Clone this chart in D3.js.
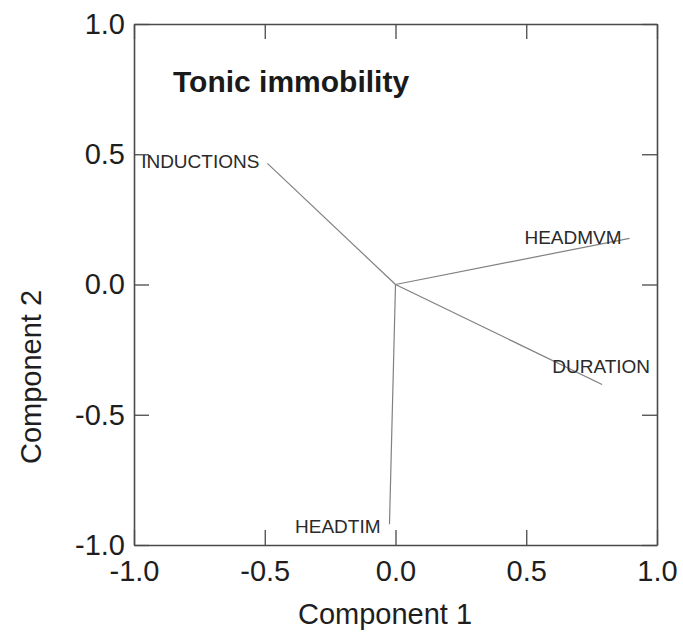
<!DOCTYPE html>
<html>
<head>
<meta charset="utf-8">
<script src="https://cdn.jsdelivr.net/npm/d3@7"></script>
<style>
  html, body { margin: 0; padding: 0; background: #fff; }
  svg text { font-family: "Liberation Sans", Arial, Helvetica, sans-serif; }
</style>
</head>
<body>
<svg id="chart" width="683" height="633"></svg>
<script>
// ---- data ----
const variables = ["INDUCTIONS", "HEADMVM", "DURATION", "HEADTIM"];
const component1 = [-0.49, 0.895, 0.79, -0.023];
const component2 = [0.465, 0.177, -0.384, -0.92];
const tickValues = [-1.0, -0.5, 0.0, 0.5, 1.0];
const tickLabels = ["-1.0", "-0.5", "0.0", "0.5", "1.0"];
const chartTitle = "Tonic immobility";
const xTitle = "Component 1";
const yTitle = "Component 2";

// ---- layout ----
const svg = d3.select("#chart");
const plotL = 134, plotR = 657, plotT = 24, plotB = 545;
const x = d3.scaleLinear().domain([-1, 1]).range([plotL, plotR]);
const y = d3.scaleLinear().domain([-1, 1]).range([plotB, plotT]);
const fmt = d => tickLabels[tickValues.indexOf(d)];

// label offsets (pixels) relative to vector end points
const labelOffsets = {
  INDUCTIONS: [-8, 5],
  HEADMVM: [-8, 6],
  DURATION: [48, -12],
  HEADTIM: [-9, 9]
};

const frameColor = "#4a4a4a";
const textColor = "#1e1e1e";

function styleAxis(g, showLabels) {
  g.selectAll(".domain").attr("stroke", frameColor).attr("stroke-width", 1.6);
  g.selectAll(".tick line").attr("stroke", frameColor).attr("stroke-width", 1.3);
  g.selectAll(".tick text")
    .attr("fill", textColor)
    .style("font-size", "29px")
    .style("display", showLabels ? null : "none");
}

// bottom
svg.append("g").attr("transform", `translate(0,${plotB})`)
  .call(d3.axisBottom(x).tickValues(tickValues).tickFormat(fmt)
        .tickSizeInner(-15).tickSizeOuter(0).tickPadding(15))
  .call(g => styleAxis(g, true));
// top
svg.append("g").attr("transform", `translate(0,${plotT})`)
  .call(d3.axisTop(x).tickValues(tickValues).tickFormat(fmt)
        .tickSizeInner(-15).tickSizeOuter(0))
  .call(g => styleAxis(g, false));
// left
svg.append("g").attr("transform", `translate(${plotL},0)`)
  .call(d3.axisLeft(y).tickValues(tickValues).tickFormat(fmt)
        .tickSizeInner(-15).tickSizeOuter(0).tickPadding(9))
  .call(g => styleAxis(g, true));
// right
svg.append("g").attr("transform", `translate(${plotR},0)`)
  .call(d3.axisRight(y).tickValues(tickValues).tickFormat(fmt)
        .tickSizeInner(-15).tickSizeOuter(0))
  .call(g => styleAxis(g, false));

// ---- vectors ----
const rows = variables.map((v, i) => ({ name: v, c1: component1[i], c2: component2[i] }));

svg.append("g").selectAll("line").data(rows).join("line")
  .attr("x1", x(0)).attr("y1", y(0))
  .attr("x2", d => x(d.c1)).attr("y2", d => y(d.c2))
  .attr("stroke", "#808080").attr("stroke-width", 1.2);

svg.append("g").selectAll("text").data(rows).join("text")
  .attr("x", d => x(d.c1) + labelOffsets[d.name][0])
  .attr("y", d => y(d.c2) + labelOffsets[d.name][1])
  .attr("text-anchor", "end")
  .attr("fill", "#2a2a2a")
  .style("font-size", "19px")
  .text(d => d.name);

// ---- titles ----
svg.append("text")
  .attr("x", 173).attr("y", 92)
  .attr("fill", "#1a1a1a")
  .style("font-size", "30px").style("font-weight", "bold")
  .text(chartTitle);

svg.append("text")
  .attr("x", 385).attr("y", 624)
  .attr("text-anchor", "middle")
  .attr("fill", textColor)
  .style("font-size", "29px")
  .text(xTitle);

svg.append("text")
  .attr("transform", "translate(41,377) rotate(-90)")
  .attr("text-anchor", "middle")
  .attr("fill", textColor)
  .style("font-size", "29px")
  .text(yTitle);
</script>
</body>
</html>
